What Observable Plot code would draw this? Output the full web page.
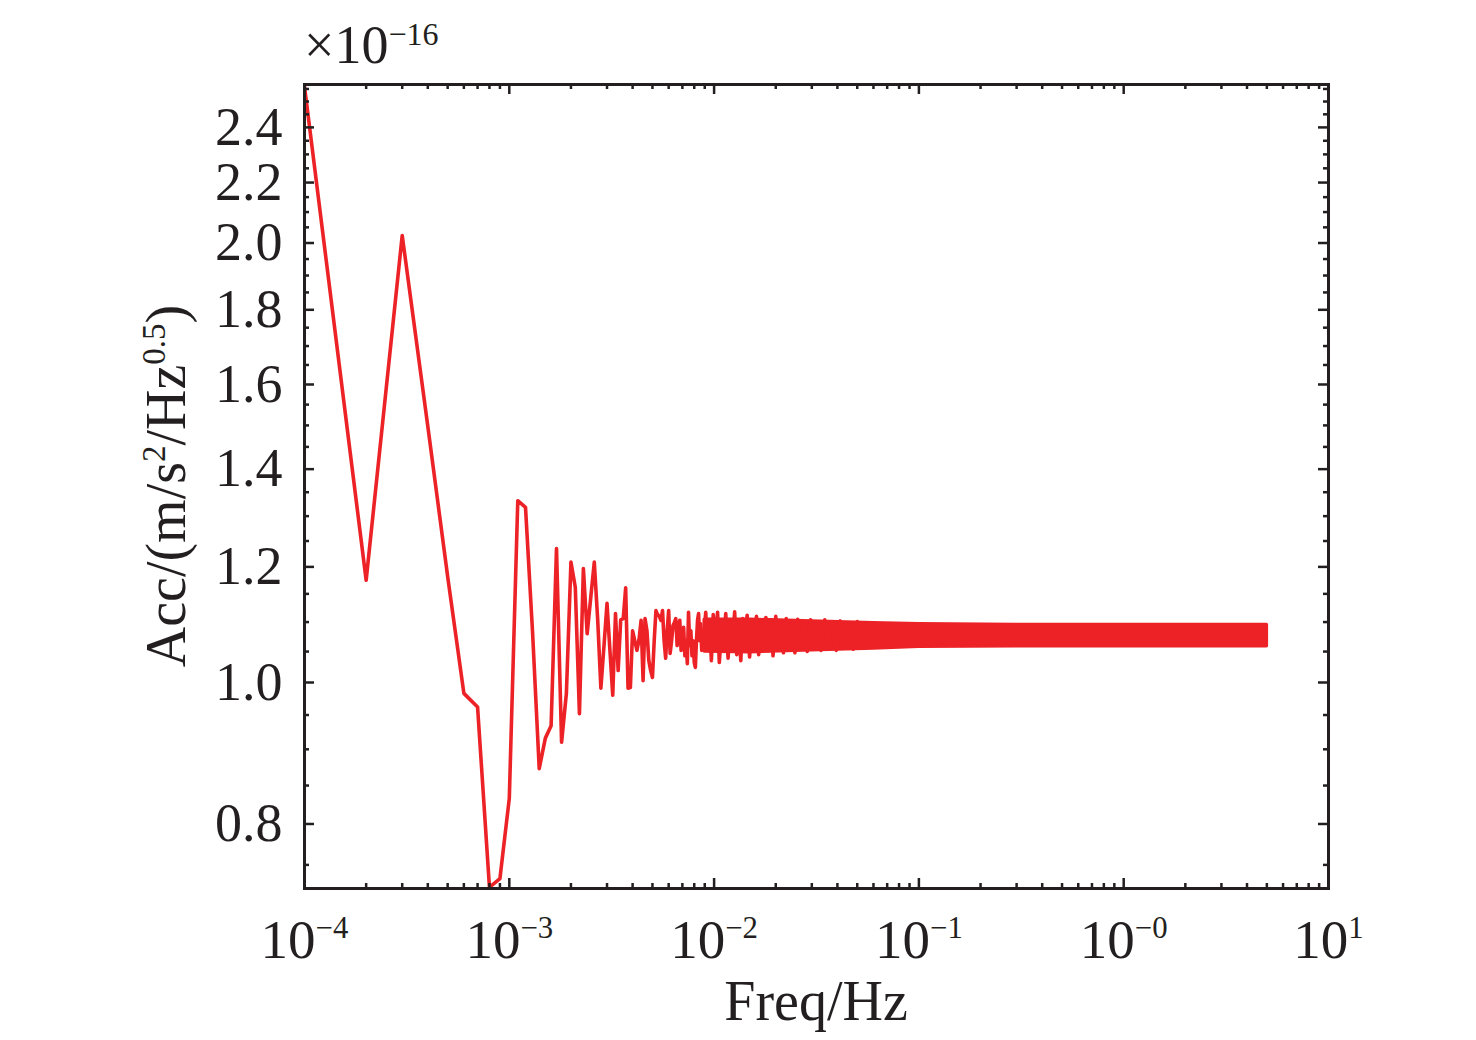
<!DOCTYPE html>
<html>
<head>
<meta charset="utf-8">
<script src="https://cdn.jsdelivr.net/npm/d3@7"></script>
<script src="https://cdn.jsdelivr.net/npm/@observablehq/plot@0.6"></script>
<style>
  html, body { margin: 0; padding: 0; background: #fff; }
  #chart svg { display: block; }
</style>
</head>
<body>
<div id="chart"></div>
<script>
// ---------- data ----------
// low-frequency bins (Hz) and acceleration noise (×1e-16 m/s²/Hz^0.5)
const lowFreq = [
  0.0001,0.0002,0.0003,0.0004,0.0005,0.0006,0.0007,0.0008,0.0009,0.0010,
  0.0011,0.0012,0.0013,0.0014,0.0015,0.0016,0.0017,0.0018,0.0019,0.0020,
  0.0021,0.0022,0.0023,0.0024,0.0025,0.0026,0.0027,0.0028,0.0029,0.0030,
  0.0031,0.0032,0.0033,0.0034,0.0035,0.0036,0.0037,0.0038,0.0039,0.0040,
  0.0041,0.0042,0.0043,0.0044,0.0045,0.0046,0.0047,0.0048,0.0049,0.0050,
  0.0051,0.0052,0.0053,0.0054,0.0055,0.0056,0.0057,0.0058,0.0059,0.0060,
  0.0061,0.0062,0.0063,0.0064,0.0065,0.0066,0.0067,0.0068,0.0069,0.0070,
  0.0071,0.0072,0.0073,0.0074,0.0075,0.0076,0.0077,0.0078,0.0079,0.0080,
  0.0081,0.0082,0.0083,0.0084,0.0085,0.0086,0.0087,0.0088,0.0089,0.0090
];
const lowAcc = [
  2.560,1.175,2.024,1.498,1.182,0.983,0.962,0.724,0.734,0.833,
  1.332,1.318,1.080,0.873,0.916,0.934,1.235,0.910,0.983,1.209,
  1.162,0.952,1.197,1.080,1.144,1.209,1.106,0.991,1.060,1.133,
  1.052,0.980,1.115,1.019,1.104,1.106,1.161,0.991,0.992,1.085,
  1.068,1.052,1.070,1.103,1.003,1.106,1.085,1.035,1.019,1.008,
  1.068,1.120,1.113,1.110,1.103,1.120,1.068,1.039,1.085,1.120,
  1.047,1.068,1.094,1.099,1.106,1.060,1.094,1.103,1.052,1.068,
  1.091,1.043,1.068,1.030,1.117,1.060,1.085,1.043,1.068,1.032,
  1.024,1.068,1.103,1.115,1.068,1.097,1.052,1.085,1.057,1.094
];
// mid-frequency spikes (Hz, value)
const midFreq = [
  0.0091,0.0093,0.0095,0.0097,0.0099,0.0101,0.0104,0.0106,0.0109,0.0111,
  0.0114,0.0117,0.0120,0.0123,0.0126,0.0129,0.0132,0.0135,0.0138,0.0141,
  0.0145,0.0149,0.0153,0.0157,0.0161,0.0165,0.0169,0.0174,0.0179,0.0184,
  0.0189,0.0194,0.0200,0.0206,0.0212,0.0218,0.0225,0.0232,0.0240,0.0248,
  0.0256,0.0265,0.0275,0.0285,0.0296,0.0307,0.0320,0.0333,0.0347,0.0362,
  0.0378,0.0395,0.0413,0.0433,0.0455,0.0478,0.0500,0.0530,0.0560,0.0600
];
const midAcc = [
  1.117,1.060,1.098,1.035,1.113,1.070,1.117,1.032,1.090,1.062,
  1.115,1.039,1.100,1.066,1.118,1.045,1.095,1.035,1.106,1.068,
  1.112,1.041,1.096,1.060,1.110,1.045,1.094,1.066,1.108,1.052,
  1.103,1.043,1.110,1.064,1.098,1.048,1.106,1.066,1.100,1.048,
  1.105,1.063,1.096,1.050,1.104,1.066,1.098,1.052,1.104,1.064,
  1.097,1.052,1.102,1.062,1.098,1.054,1.101,1.062,1.098,1.057
];
// dense high-frequency band: envelope of the noise
const bandFreq = [0.009, 0.015, 0.03, 0.06, 0.1, 0.3, 1, 5];
const bandHigh = [1.104, 1.104, 1.101, 1.098, 1.096, 1.095, 1.095, 1.095];
const bandLow  = [1.050, 1.049, 1.052, 1.055, 1.058, 1.059, 1.059, 1.059];

// axes
const xTicks = [1e-4, 1e-3, 1e-2, 1e-1, 1e0, 1e1];
const xTickExp = ["−4", "−3", "−2", "−1", "−0", "1"];
const yTicks = [0.8, 1.0, 1.2, 1.4, 1.6, 1.8, 2.0, 2.2, 2.4];
const yTickLabels = ["0.8", "1.0", "1.2", "1.4", "1.6", "1.8", "2.0", "2.2", "2.4"];
const xMinor = xTicks.slice(0, -1).flatMap(d => [2,3,4,5,6,7,8,9].map(m => m * d));
const yMinor = d3.range(15, 52).map(i => i * 0.05).filter(v => Math.abs(v * 5 - Math.round(v * 5)) > 1e-6);

// ---------- build ----------
const lineData = lowFreq.map((f, i) => ({f, v: lowAcc[i]}))
  .concat(midFreq.map((f, i) => ({f, v: midAcc[i]})));
const bandData = bandFreq.map((f, i) => ({f, hi: bandHigh[i], lo: bandLow[i]}));

const W = 1476, H = 1040;
const mL = 304, mR = 148, mT = 84, mB = 152;
const fw = W - mL - mR, fh = H - mT - mB;
const ink = "#231f20", red = "#ec2227";
const font = "'Liberation Serif', 'DejaVu Serif', serif";
const majorLen = 10, minorLen = 5, tickW = 2.5;

const chart = Plot.plot({
  width: W, height: H,
  marginLeft: mL, marginRight: mR, marginTop: mT, marginBottom: mB,
  style: {background: "#fff", fontFamily: font, color: ink},
  x: {type: "log", domain: [1e-4, 10]},
  y: {type: "log", domain: [0.7226, 2.568]},
  marks: [
    Plot.areaY(bandData, {x: "f", y1: "lo", y2: "hi", fill: red, stroke: red, strokeWidth: 3.5, strokeLinejoin: "round", clip: true}),
    Plot.line(lineData, {x: "f", y: "v", stroke: red, strokeWidth: 3.6, strokeLinejoin: "round", strokeLinecap: "round", clip: true}),
    // inward ticks: bottom & top
    Plot.ruleX(xTicks, {x: d => d, insetTop: fh - majorLen, stroke: ink, strokeWidth: tickW}),
    Plot.ruleX(xTicks, {x: d => d, insetBottom: fh - majorLen, stroke: ink, strokeWidth: tickW}),
    Plot.ruleX(xMinor, {x: d => d, insetTop: fh - minorLen, stroke: ink, strokeWidth: tickW}),
    Plot.ruleX(xMinor, {x: d => d, insetBottom: fh - minorLen, stroke: ink, strokeWidth: tickW}),
    // inward ticks: left & right
    Plot.ruleY(yTicks, {y: d => d, insetRight: fw - majorLen, stroke: ink, strokeWidth: tickW}),
    Plot.ruleY(yTicks, {y: d => d, insetLeft: fw - majorLen, stroke: ink, strokeWidth: tickW}),
    Plot.ruleY(yMinor, {y: d => d, insetRight: fw - minorLen, stroke: ink, strokeWidth: tickW}),
    Plot.ruleY(yMinor, {y: d => d, insetLeft: fw - minorLen, stroke: ink, strokeWidth: tickW}),
    Plot.frame({stroke: ink, strokeWidth: 3}),
    Plot.axisX({ticks: xTicks, tickSize: 0, tickPadding: 30, fontSize: 55, fill: ink, label: null,
      tickFormat: d => "10^" + xTickExp[xTicks.indexOf(d)]}),
    Plot.axisY({ticks: yTicks, tickSize: 0, tickPadding: 22, fontSize: 54, fill: ink, label: null,
      tickFormat: d => yTickLabels[yTicks.indexOf(d)]})
  ]
});
document.getElementById("chart").appendChild(chart);

// ---------- text with superscripts ----------
const svg = d3.select(chart);
svg.selectAll('[aria-label="x-axis tick label"] text').each(function () {
  const [base, exp] = this.textContent.split("^");
  const t = d3.select(this);
  t.text(base);
  t.append("tspan").attr("dy", "-0.64em").attr("font-size", "0.56em").text(exp);
});

// x title
svg.append("text")
  .attr("x", mL + fw / 2).attr("y", 1020)
  .attr("text-anchor", "middle").attr("font-family", font).attr("font-size", 56).attr("fill", ink)
  .text("Freq/Hz");

// y title
const yt = svg.append("text")
  .attr("transform", "translate(185,486) rotate(-90)")
  .attr("text-anchor", "middle").attr("font-family", font).attr("font-size", 56).attr("fill", ink);
yt.append("tspan").text("Acc/(m/s");
yt.append("tspan").attr("dy", -20).attr("font-size", 33).text("2");
yt.append("tspan").attr("dy", 20).text("/Hz");
yt.append("tspan").attr("dy", -20).attr("font-size", 33).text("0.5");
yt.append("tspan").attr("dy", 20).text(")");

// exponent multiplier
const mt = svg.append("text")
  .attr("x", 304).attr("y", 63)
  .attr("text-anchor", "start")
  .attr("font-family", font).attr("font-size", 54).attr("fill", ink);
mt.append("tspan").text("×10");
mt.append("tspan").attr("dy", -18).attr("font-size", 32).text("−16");
</script>
</body>
</html>
